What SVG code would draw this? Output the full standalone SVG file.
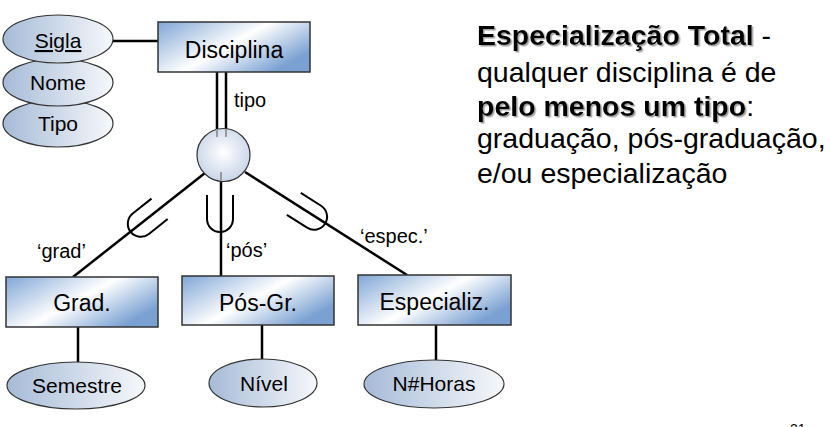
<svg xmlns="http://www.w3.org/2000/svg" width="831" height="427" viewBox="0 0 831 427">
<defs>
<linearGradient id="gRect" x1="0" y1="0" x2="1" y2="0.6">
<stop offset="0" stop-color="#80a6d6"/>
<stop offset="0.55" stop-color="#ffffff"/>
<stop offset="1" stop-color="#7aa1d2"/>
</linearGradient>
<linearGradient id="gEll" x1="0" y1="0" x2="1" y2="0">
<stop offset="0" stop-color="#a6bbd7"/>
<stop offset="1" stop-color="#f6f8fb"/>
</linearGradient>
<radialGradient id="gCirc" cx="0.5" cy="0.45" r="0.6">
<stop offset="0" stop-color="#ffffff"/>
<stop offset="1" stop-color="#c3d1e6"/>
</radialGradient>
<filter id="sh" x="-5%" y="-20%" width="110%" height="140%">
<feDropShadow dx="1.5" dy="1.5" stdDeviation="0.6" flood-color="#888" flood-opacity="0.8"/>
</filter>
</defs>
<style>
.ent{fill:url(#gRect);stroke:#333;stroke-width:1.5}
.att{fill:url(#gEll);stroke:#333;stroke-width:1.2}
.c{stroke:#000;stroke-width:2.5;fill:none}
.u{stroke:#000;stroke-width:2;fill:none}
.t{font-family:"Liberation Sans",Arial,sans-serif;fill:#000}
.et{font-size:23px;text-anchor:middle}
.at{font-size:21px;text-anchor:middle}
.lb{font-size:20px}
.rt{font-size:28.5px}
</style>
<g id="connectors">
<line class="c" x1="113" y1="41" x2="158" y2="41"/>
<line class="c" x1="217" y1="72" x2="217" y2="131"/>
<line class="c" x1="226" y1="72" x2="226" y2="131"/>
<line class="c" x1="205" y1="173" x2="73" y2="277"/>
<line class="c" x1="221" y1="181" x2="221" y2="276"/>
<line class="c" x1="245" y1="172" x2="407" y2="275"/>
<line class="c" x1="78" y1="327" x2="78" y2="362"/>
<line class="c" x1="262" y1="325" x2="262" y2="359"/>
<line class="c" x1="436" y1="325" x2="436" y2="360"/>
<path class="u" transform="translate(145.5,220) rotate(51.5)" d="M -13 -18 L -13 6 A 13 13 0 0 0 13 6 L 13 -18"/>
<path class="u" transform="translate(220,213)" d="M -13 -18 L -13 6 A 13 13 0 0 0 13 6 L 13 -18"/>
<path class="u" transform="translate(309,213.5) rotate(-57.5)" d="M -13 -18 L -13 6 A 13 13 0 0 0 13 6 L 13 -18"/>
<text class="t lb" x="234" y="107">tipo</text>
<text class="t lb" x="37" y="258">‘grad’</text>
<text class="t lb" x="226" y="257">‘pós’</text>
<text class="t lb" x="360" y="243">‘espec.’</text>
</g>
<g id="attr-tipo">
<ellipse class="att" cx="58" cy="123.5" rx="55" ry="23.5"/>
<text class="t at" x="58" y="131">Tipo</text>
</g>
<g id="attr-nome">
<ellipse class="att" cx="58" cy="82.5" rx="55" ry="23.5"/>
<text class="t at" x="58" y="90">Nome</text>
</g>
<g id="attr-sigla">
<ellipse class="att" cx="58" cy="39" rx="55" ry="24"/>
<text class="t at" x="58" y="48" text-decoration="underline">Sigla</text>
</g>
<g id="disciplina">
<rect class="ent" x="158" y="22" width="152" height="50"/>
<text class="t et" x="234" y="58">Disciplina</text>
</g>
<g id="especializacao">
<circle cx="223.5" cy="155" r="26.5" fill="url(#gCirc)" stroke="#333" stroke-width="1.2"/>
<line x1="217" y1="129" x2="217" y2="137" stroke="#999" stroke-width="2"/>
<line x1="226" y1="129" x2="226" y2="137" stroke="#999" stroke-width="2"/>
<line x1="221" y1="172" x2="221" y2="181" stroke="#999" stroke-width="2"/>
</g>
<g id="grad">
<rect class="ent" x="6" y="277" width="152" height="50"/>
<text class="t et" x="82" y="311">Grad.</text>
</g>
<g id="posgr">
<rect class="ent" x="182" y="276" width="152" height="49"/>
<text class="t et" x="258" y="311">Pós-Gr.</text>
</g>
<g id="especializ">
<rect class="ent" x="358" y="275" width="153" height="50"/>
<text class="t et" x="434.5" y="310">Especializ.</text>
</g>
<g id="attr-semestre">
<ellipse class="att" cx="76" cy="385.5" rx="69" ry="23.5"/>
<text class="t at" x="77" y="393">Semestre</text>
</g>
<g id="attr-nivel">
<ellipse class="att" cx="263" cy="383" rx="54" ry="24"/>
<text class="t at" x="264" y="391">Nível</text>
</g>
<g id="attr-horas">
<ellipse class="att" cx="434" cy="384" rx="70" ry="24"/>
<text class="t at" x="434" y="391">N#Horas</text>
</g>
<g id="description">
<text class="t rt" x="477" y="45"><tspan font-weight="bold" filter="url(#sh)">Especialização Total</tspan> -</text>
<text class="t rt" x="477" y="82">qualquer disciplina é de</text>
<text class="t rt" x="477" y="116"><tspan font-weight="bold" filter="url(#sh)">pelo menos um tipo</tspan>:</text>
<text class="t rt" x="477" y="148">graduação, pós-graduação,</text>
<text class="t rt" x="477" y="183">e/ou especialização</text>
</g>
<text class="t" x="790" y="434" font-size="14">21</text>
</svg>
